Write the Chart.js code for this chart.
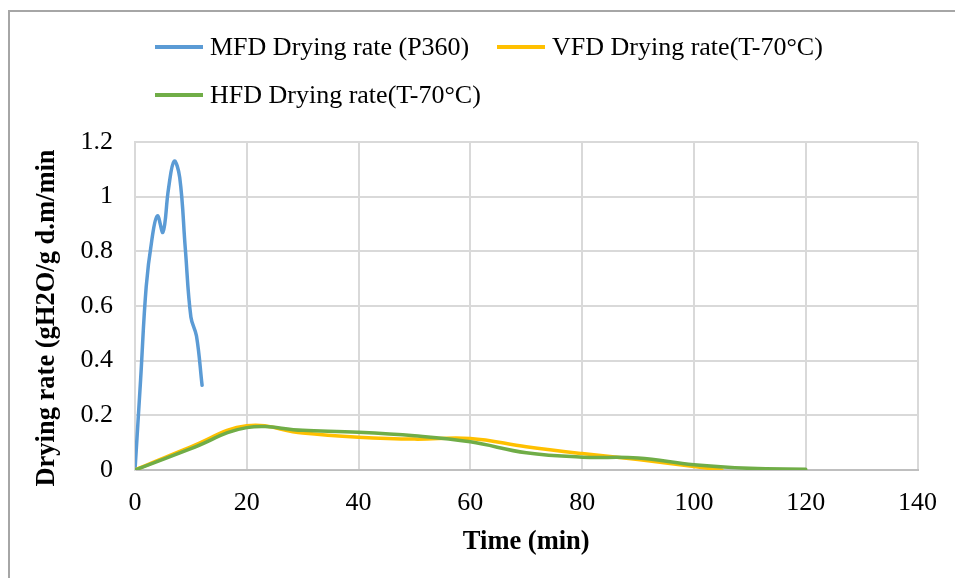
<!DOCTYPE html>
<html>
<head>
<meta charset="utf-8">
<script src="https://cdn.jsdelivr.net/npm/chart.js@4.4.1/dist/chart.umd.min.js"></script>
<style>
  html, body { margin: 0; padding: 0; background: #fff; }
  #wrap { position: relative; width: 955px; height: 578px; overflow: hidden; }
  #frame { position: absolute; left: 8px; top: 10px; width: 960px; height: 600px; border-left: 2px solid #a6a6a6; border-top: 2px solid #a6a6a6; box-sizing: border-box; }
  canvas { position: absolute; left: 0; top: 0; }
  .lg { position: absolute; font-family: "Liberation Serif", "Times New Roman", serif; font-size: 26px; color: #000; white-space: nowrap; line-height: 30px; }
  .lg .sw { position: absolute; left: 0; top: 13px; width: 48px; height: 4px; }
  .lg .tx { position: absolute; left: 55px; top: 0; }
</style>
</head>
<body>
<div id="wrap">
  <div id="frame"></div>
  <canvas id="c" width="955" height="578"></canvas>
  <div id="legend"></div>
</div>
<script>
// Series names
const seriesNames = ["MFD Drying rate (P360)", "VFD Drying rate(T-70°C)", "HFD Drying rate(T-70°C)"];
const seriesColors = ["#5b9bd5", "#ffc000", "#70ad47"];

// MFD (min, rate)
const mfdTime = [0, 1, 2, 3, 4, 5, 6, 7, 8, 9, 10, 11, 12];
const mfdRate = [0, 0.33, 0.67, 0.84, 0.93, 0.87, 1.03, 1.13, 1.07, 0.81, 0.56, 0.49, 0.31];

// VFD (min, rate)
const vfdTime = [0, 10, 20, 30, 40, 50, 60, 70, 80, 90, 100, 105];
const vfdRate = [0, 0.085, 0.162, 0.135, 0.12, 0.113, 0.115, 0.085, 0.06, 0.038, 0.013, 0];

// HFD (min, rate)
const hfdTime = [0, 10, 20, 30, 40, 50, 60, 70, 80, 90, 100, 110, 120];
const hfdRate = [0, 0.078, 0.155, 0.145, 0.138, 0.125, 0.103, 0.063, 0.047, 0.044, 0.019, 0.006, 0.003];

// Axis ticks and titles
const xTicks = [0, 20, 40, 60, 80, 100, 120, 140];
const yTicks = [0, 0.2, 0.4, 0.6, 0.8, 1, 1.2];
const xTitle = 'Time (min)';
const yTitle = 'Drying rate (gH2O/g d.m/min';

const toXY = (xs, ys) => xs.map((x, i) => ({x: x, y: ys[i]}));

// HTML legend
const legendPos = [[155, 32], [497, 32], [155, 80]];
const lg = document.getElementById('legend');
seriesNames.forEach((n, i) => {
  const d = document.createElement('div');
  d.className = 'lg';
  d.style.left = legendPos[i][0] + 'px';
  d.style.top = legendPos[i][1] + 'px';
  d.innerHTML = '<div class="sw" style="background:' + seriesColors[i] + '"></div><span class="tx"></span>';
  d.querySelector('.tx').textContent = n;
  lg.appendChild(d);
});

const serif = "'Liberation Serif', 'Times New Roman', serif";

// y-axis title drawn centred where the reference places it
const yTitlePlugin = {
  id: 'yTitle',
  afterDraw(chart) {
    const ctx = chart.ctx;
    ctx.save();
    ctx.translate(47, 318);
    ctx.rotate(-Math.PI / 2);
    ctx.font = 'bold 26.5px ' + serif;
    ctx.fillStyle = '#000';
    ctx.textAlign = 'center';
    ctx.textBaseline = 'middle';
    ctx.fillText(yTitle, 0, 0);
    ctx.restore();
  }
};

new Chart(document.getElementById('c'), {
  type: 'line',
  data: {
    datasets: [
      { label: seriesNames[0], data: toXY(mfdTime, mfdRate), borderColor: seriesColors[0], order: 2 },
      { label: seriesNames[1], data: toXY(vfdTime, vfdRate), borderColor: seriesColors[1], order: 1 },
      { label: seriesNames[2], data: toXY(hfdTime, hfdRate), borderColor: seriesColors[2], order: 0 }
    ]
  },
  plugins: [yTitlePlugin],
  options: {
    responsive: false,
    animation: false,
    events: [],
    layout: { padding: { left: 0, right: 37, top: 142, bottom: 0 } },
    elements: {
      line: { borderWidth: 3.5, tension: 0.4, fill: false, borderCapStyle: 'round', borderJoinStyle: 'round' },
      point: { radius: 0 }
    },
    plugins: { legend: { display: false }, tooltip: { enabled: false } },
    scales: {
      x: {
        type: 'linear', min: 0, max: 140,
        afterBuildTicks: s => { s.ticks = xTicks.map(v => ({value: v})); },
        afterFit: s => { s.height = 108; },
        grid: { color: '#d9d9d9', lineWidth: 2, drawTicks: false },
        border: { color: '#bfbfbf', width: 2 },
        ticks: { font: { family: serif, size: 26 }, color: '#000', padding: 18, maxRotation: 0, callback: v => String(v) },
        title: { display: true, text: xTitle, font: { family: serif, size: 26.5, weight: 'bold' }, color: '#000', padding: { top: 0, bottom: 20 } }
      },
      y: {
        type: 'linear', min: 0, max: 1.2,
        afterBuildTicks: s => { s.ticks = yTicks.map(v => ({value: v})); },
        afterFit: s => { s.width = 135; },
        grid: { color: '#d9d9d9', lineWidth: 2, drawTicks: false },
        border: { color: '#d9d9d9', width: 2 },
        ticks: { font: { family: serif, size: 26 }, color: '#000', padding: 22, callback: v => String(v) },
        title: { display: false }
      }
    }
  }
});
</script>
</body>
</html>
